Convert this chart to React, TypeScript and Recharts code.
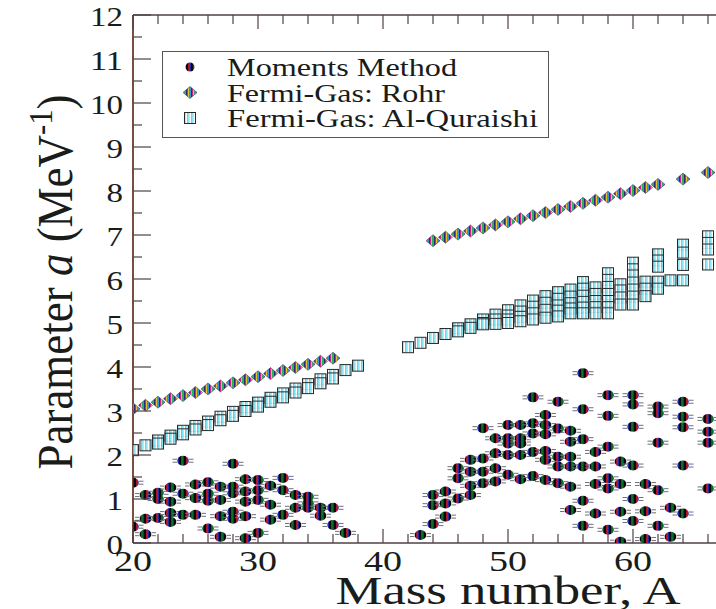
import React from "react";
import { ScatterChart, Scatter, XAxis, YAxis, ReferenceLine, Legend } from "recharts";

const FONT = "'Liberation Serif', 'Times New Roman', Times, serif";
const INK = "#1a1c1a";
const AXIS = "#4f4148";

// plot frame (px inside the chart svg)
const PLOT_LEFT = 133;
const PLOT_TOP = 15;
const PLOT_BOTTOM = 543;
const VISIBLE_RIGHT = 716;

const X_TICKS = [20, 22, 24, 26, 28, 30, 32, 34, 36, 38, 40, 42, 44, 46, 48, 50, 52, 54, 56, 58, 60, 62, 64, 66, 68, 70];
const Y_TICKS = [0, 0.5, 1, 1.5, 2, 2.5, 3, 3.5, 4, 4.5, 5, 5.5, 6, 6.5, 7, 7.5, 8, 8.5, 9, 9.5, 10, 10.5, 11, 11.5, 12];

const SERIES_NAMES = ["Moments Method", "Fermi-Gas: Rohr", "Fermi-Gas: Al-Quraishi"];

// [mass number, level density parameters for the isotopes of that A]
const momentsMethod: [number, number[]][] = [
  [20, [1.37, 0.37]],
  [21, [1.09, 0.55, 0.2]],
  [22, [1.14, 1.0, 0.57]],
  [23, [1.26, 0.94, 0.68, 0.48]],
  [24, [1.87, 1.12, 0.64]],
  [25, [1.33, 1.02, 0.64]],
  [26, [1.38, 1.12, 0.96, 0.33]],
  [27, [1.28, 0.98, 0.61, 0.14]],
  [28, [1.8, 1.28, 1.13, 0.71, 0.55]],
  [29, [1.45, 1.17, 0.94, 0.61, 0.11]],
  [30, [1.43, 1.2, 0.98, 0.23]],
  [31, [1.3, 0.87, 0.53]],
  [32, [1.48, 1.2, 0.64]],
  [33, [1.09, 0.8, 0.41]],
  [34, [1.05, 0.9, 0.8]],
  [35, [0.8, 0.62]],
  [36, [0.8, 0.41]],
  [37, [0.23]],
  [43, [0.18]],
  [44, [1.09, 0.86, 0.43]],
  [45, [1.17, 0.9, 0.6]],
  [46, [1.7, 1.47, 1.01]],
  [47, [1.89, 1.62, 1.3, 1.09]],
  [48, [2.61, 1.92, 1.62, 1.36]],
  [49, [2.38, 2.04, 1.7, 1.4]],
  [50, [2.68, 2.38, 2.26, 2.0, 1.55]],
  [51, [2.68, 2.38, 2.26, 2.0, 1.45]],
  [52, [3.31, 2.72, 2.49, 2.07, 1.52]],
  [53, [2.91, 2.68, 2.47, 2.09, 1.89, 1.43]],
  [54, [3.21, 2.6, 1.96, 1.74, 1.36]],
  [55, [2.55, 2.3, 1.96, 1.74, 1.28, 0.75]],
  [56, [3.86, 3.04, 2.36, 1.74, 0.96, 0.39]],
  [57, [2.07, 1.74, 1.34, 0.67]],
  [58, [3.36, 2.89, 2.19, 1.47, 1.24, 0.3]],
  [59, [1.85, 1.34, 0.71, 0.03]],
  [60, [3.36, 3.15, 2.64, 1.76, 1.0, 0.5]],
  [61, [1.34, 0.72, 0.09]],
  [62, [3.1, 2.95, 2.28, 1.2, 0.39]],
  [63, [0.8, 0.14]],
  [64, [3.21, 2.87, 2.63, 1.76, 0.67]],
  [66, [2.82, 2.53, 2.28, 1.24]],
];

const rohrMass = [20, 21, 22, 23, 24, 25, 26, 27, 28, 29, 30, 31, 32, 33, 34, 35, 36,
  44, 45, 46, 47, 48, 49, 50, 51, 52, 53, 54, 55, 56, 57, 58, 59, 60, 61, 62, 64, 66];
const rohrValues = [3.05, 3.13, 3.2, 3.28, 3.35, 3.42, 3.5, 3.57, 3.64, 3.71, 3.78, 3.85, 3.92, 3.99, 4.06, 4.13, 4.2,
  6.87, 6.95, 7.02, 7.09, 7.16, 7.23, 7.3, 7.37, 7.44, 7.51, 7.58, 7.65, 7.72, 7.79, 7.86, 7.94, 8.01, 8.08, 8.15, 8.27, 8.42];

const alQuraishi: [number, number[]][] = [
  [20, [2.11]],
  [21, [2.22]],
  [22, [2.33, 2.26]],
  [23, [2.44, 2.37]],
  [24, [2.55, 2.47]],
  [25, [2.66, 2.58]],
  [26, [2.76, 2.68]],
  [27, [2.87, 2.79]],
  [28, [2.98, 2.89]],
  [29, [3.09, 3.0]],
  [30, [3.19, 3.1]],
  [31, [3.3, 3.21]],
  [32, [3.4, 3.31]],
  [33, [3.51, 3.42]],
  [34, [3.61, 3.52]],
  [35, [3.72, 3.63]],
  [36, [3.82, 3.74]],
  [37, [3.93]],
  [38, [4.03]],
  [42, [4.45]],
  [43, [4.55]],
  [44, [4.66]],
  [45, [4.75]],
  [46, [4.88, 4.81]],
  [47, [4.97, 4.89]],
  [48, [5.08, 5.0, 4.97]],
  [49, [5.19, 5.08, 4.98]],
  [50, [5.29, 5.17, 5.08, 5.0]],
  [51, [5.4, 5.26, 5.14, 5.04]],
  [52, [5.51, 5.37, 5.22, 5.08]],
  [53, [5.61, 5.46, 5.3, 5.12]],
  [54, [5.7, 5.55, 5.4, 5.28, 5.15]],
  [55, [5.76, 5.6, 5.45, 5.33, 5.22]],
  [56, [5.93, 5.78, 5.62, 5.48, 5.35, 5.22]],
  [57, [5.81, 5.66, 5.5, 5.36, 5.22]],
  [58, [6.13, 5.98, 5.82, 5.66, 5.5, 5.36, 5.22]],
  [59, [5.88, 5.74, 5.58, 5.42]],
  [60, [6.37, 6.22, 6.08, 5.92, 5.76, 5.6, 5.42]],
  [61, [5.94, 5.78, 5.61]],
  [62, [6.56, 6.42, 6.28, 5.94, 5.78]],
  [63, [5.97]],
  [64, [6.78, 6.6, 6.32, 5.97]],
  [66, [6.97, 6.82, 6.67, 6.33]],
];

const toPoints = (groups: [number, number[]][]) =>
  groups.flatMap(([A, vals]) => vals.map((a) => ({ A, a })));

const momentsData = toPoints(momentsMethod);
const rohrData = rohrMass.map((A, i) => ({ A, a: rohrValues[i] }));
const quraishiData = toPoints(alQuraishi);

type MarkProps = { cx?: number; cy?: number; bare?: boolean };

function MomentsDot({ cx, cy, bare }: MarkProps) {
  if (cx == null || cy == null) return null;
  return (
    <g>
      {!bare && (
        <path
          d={`M${cx - 10.5},${cy - 1.5}h4.5M${cx - 10.5},${cy + 1.5}h4.5M${cx + 6},${cy - 1.5}h4.5M${cx + 6},${cy + 1.5}h4.5`}
          stroke="#70707e"
          strokeWidth={1}
        />
      )}
      <ellipse cx={cx} cy={cy} rx={bare ? 4.5 : 5.8} ry={bare ? 4.5 : 5} fill="url(#mm-stripes)" />
    </g>
  );
}

function RohrDiamond({ cx, cy }: MarkProps) {
  if (cx == null || cy == null) return null;
  return (
    <path
      d={`M${cx - 7},${cy} L${cx},${cy - 6} L${cx + 7},${cy} L${cx},${cy + 6} Z`}
      fill="url(#rohr-stripes)"
      stroke="#4a3a60"
      strokeWidth={0.6}
    />
  );
}

function QuraishiBox({ cx, cy }: MarkProps) {
  if (cx == null || cy == null) return null;
  return (
    <rect
      x={cx - 5.5}
      y={cy - 5.5}
      width={11}
      height={11}
      fill="url(#aq-stripes)"
      fillOpacity={0.9}
      stroke="#2a2a2a"
      strokeWidth={1}
    />
  );
}

function XTick({ x, payload }: any) {
  const v = payload.value;
  const major = v % 10 === 0;
  const len = major ? 14 : 9;
  return (
    <g>
      <line x1={x} x2={x} y1={PLOT_BOTTOM} y2={PLOT_BOTTOM - len} stroke={AXIS} strokeWidth={1.2} />
      <line x1={x} x2={x} y1={PLOT_TOP} y2={PLOT_TOP + len} stroke={AXIS} strokeWidth={1.2} />
      {major && x + 19 < VISIBLE_RIGHT && (
        <text
          x={x}
          y={PLOT_BOTTOM + 28}
          textAnchor="middle"
          fontFamily={FONT}
          fontSize={29}
          fill={INK}
          textLength={38}
          lengthAdjust="spacingAndGlyphs"
        >
          {v}
        </text>
      )}
    </g>
  );
}

function YTick({ y, payload }: any) {
  const v = payload.value;
  const major = Number.isInteger(v);
  const label = String(v);
  return (
    <g>
      <line x1={PLOT_LEFT} x2={PLOT_LEFT + (major ? 18 : 9)} y1={y} y2={y} stroke={AXIS} strokeWidth={1.2} />
      {major && (
        <text
          x={123}
          y={y + 11}
          textAnchor="end"
          fontFamily={FONT}
          fontSize={28}
          fill={INK}
          textLength={label.length * 16.5}
          lengthAdjust="spacingAndGlyphs"
        >
          {label}
        </text>
      )}
    </g>
  );
}

const LEGEND_TEXT_WIDTHS = [230, 218, 311];
const LEGEND_MARKS = [MomentsDot, RohrDiamond, QuraishiBox];

function LegendBox() {
  return (
    <svg width={388} height={88} style={{ display: "block" }}>
      <rect x={0.5} y={0.5} width={386} height={86} fill="#fff" stroke="#555" strokeWidth={1} />
      {SERIES_NAMES.map((name, i) => {
        const Mark = LEGEND_MARKS[i];
        const cy = 16 + i * 25.5;
        return (
          <g key={name}>
            <Mark cx={28} cy={cy} bare />
            <text
              x={65}
              y={cy + 9}
              fontFamily={FONT}
              fontSize={26}
              fill={INK}
              textLength={LEGEND_TEXT_WIDTHS[i]}
              lengthAdjust="spacingAndGlyphs"
            >
              {name}
            </text>
          </g>
        );
      })}
    </svg>
  );
}

export default function App() {
  return (
    <div
      style={{
        position: "absolute",
        left: 0,
        top: 0,
        width: VISIBLE_RIGHT,
        height: 609,
        overflow: "hidden",
        background: "#fff",
        fontFamily: FONT,
      }}
    >
      <ScatterChart width={768} height={609} margin={{ top: PLOT_TOP, right: 10, bottom: 0, left: 0 }}>
        <defs>
          <pattern id="mm-stripes" width={5} height={5} patternUnits="userSpaceOnUse">
            <rect width={5} height={5} fill="#080808" />
            <rect x={1} width={1} height={5} fill="#a8142a" />
            <rect x={2} width={1} height={5} fill="#0e6e30" />
            <rect x={3} width={1} height={5} fill="#1c2aa0" />
          </pattern>
          <pattern id="rohr-stripes" width={5} height={5} patternUnits="userSpaceOnUse">
            <rect width={5} height={5} fill="#d81e86" />
            <rect x={1} width={1} height={5} fill="#e8c428" />
            <rect x={2} width={1} height={5} fill="#28b45a" />
            <rect x={3} width={1} height={5} fill="#2a9ad8" />
            <rect x={4} width={1} height={5} fill="#302878" />
          </pattern>
          <pattern id="aq-stripes" width={4} height={4} patternUnits="userSpaceOnUse">
            <rect width={4} height={4} fill="#ffffff" />
            <rect x={1} width={1} height={4} fill="#ee84dc" />
            <rect x={2} width={1} height={4} fill="#84e2f2" />
            <rect x={3} width={1} height={4} fill="#f6de6c" />
          </pattern>
        </defs>
        <XAxis
          dataKey="A"
          type="number"
          domain={[20, 70]}
          ticks={X_TICKS}
          interval={0}
          allowDataOverflow
          height={66}
          tickLine={false}
          axisLine={{ stroke: AXIS, strokeWidth: 1.6 }}
          tick={<XTick />}
        />
        <YAxis
          dataKey="a"
          type="number"
          domain={[0, 12]}
          ticks={Y_TICKS}
          interval={0}
          allowDataOverflow
          width={PLOT_LEFT}
          tickLine={false}
          axisLine={{ stroke: "#6a3a30", strokeWidth: 1.8 }}
          tick={<YTick />}
        />
        <ReferenceLine y={12} stroke={AXIS} strokeWidth={1.6} />
        <ReferenceLine x={70} stroke={AXIS} strokeWidth={1.6} />
        <Scatter name={SERIES_NAMES[2]} data={quraishiData} shape={<QuraishiBox />} isAnimationActive={false} />
        <Scatter name={SERIES_NAMES[1]} data={rohrData} shape={<RohrDiamond />} isAnimationActive={false} />
        <Scatter name={SERIES_NAMES[0]} data={momentsData} shape={<MomentsDot />} isAnimationActive={false} />
        <Legend
          layout="horizontal"
          verticalAlign="middle"
          align="center"
          wrapperStyle={{ left: 162, top: 51, width: 388, height: 88 }}
          content={() => <LegendBox />}
        />
      </ScatterChart>

      {/* axis titles */}
      <svg
        width={VISIBLE_RIGHT}
        height={609}
        style={{ position: "absolute", left: 0, top: 0, pointerEvents: "none" }}
      >
        <text
          transform="translate(72,282) scale(1.15,1) rotate(-90)"
          textAnchor="middle"
          fontFamily={FONT}
          fontSize={44}
          fill={INK}
          textLength={375}
          lengthAdjust="spacingAndGlyphs"
        >
          <tspan>Parameter </tspan>
          <tspan fontStyle="italic">a</tspan>
          <tspan> (MeV</tspan>
          <tspan dy={-17} fontSize={30}>-1</tspan>
          <tspan dy={17}>)</tspan>
        </text>
        <text
          x={508}
          y={604}
          textAnchor="middle"
          fontFamily={FONT}
          fontSize={40}
          fill={INK}
          textLength={345}
          lengthAdjust="spacingAndGlyphs"
        >
          Mass number, A
        </text>
      </svg>
    </div>
  );
}
